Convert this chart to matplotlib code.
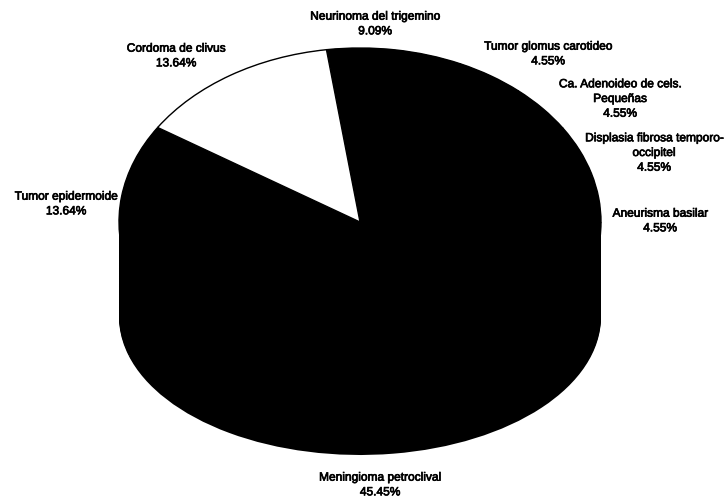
import matplotlib
matplotlib.use("Agg")
import matplotlib.pyplot as plt
from matplotlib.transforms import Affine2D
import matplotlib.patheffects as pe

# ---- data ----
categories = [
    "Neurinoma del trigemino",
    "Tumor glomus carotideo",
    "Ca. Adenoideo de cels.\nPequeñas",
    "Displasia fibrosa temporo-\noccipitel",
    "Aneurisma basilar",
    "Meningioma petroclival",
    "Tumor epidermoide",
    "Cordoma de clivus",
]
values = [9.09, 4.55, 4.55, 4.55, 4.55, 45.45, 13.64, 13.64]
slice_colors = ["black", "black", "black", "black", "black", "black", "black", "white"]

# ---- layout (pixel coordinates) ----
W, H = 727, 503
CX = 360
TOP_CY, TOP_RY = 222, 174
BOT_CY, BOT_RY = 317, 138
RX = 241
START = 98
label_pos = [(375, 24), (548, 54), (620, 99), (654, 153),
             (660, 221), (380, 485), (66, 204), (176, 56)]

fig = plt.figure(figsize=(W / 100, H / 100), dpi=100)
ax = fig.add_axes([0, 0, 1, 1])


def draw_layer(cy, ry, colors, lw):
    wedges, _ = ax.pie(values, colors=colors, startangle=START, counterclock=False,
                       wedgeprops=dict(edgecolor="black", linewidth=lw))
    tr = Affine2D().scale(RX, -ry).translate(CX, cy) + ax.transData
    for w in wedges:
        w.set_transform(tr)
    return wedges


# side (extrusion) layers, drawn from bottom face up to top face
n = 60
for k in range(n):
    t = k / (n - 1)
    cy = BOT_CY + (TOP_CY - BOT_CY) * t
    ry = BOT_RY + (TOP_RY - BOT_RY) * t
    draw_layer(cy, ry, ["black"] * len(values), 0.0)

# top face
draw_layer(TOP_CY, TOP_RY, slice_colors, 1.0)

for name, v, (x, y) in zip(categories, values, label_pos):
    ax.text(x, y, f"{name}\n{v:.2f}%", ha="center", va="center",
            fontsize=8.6, family="Liberation Sans", linespacing=1.3, color="black",
            path_effects=[pe.withStroke(linewidth=0.5, foreground="black")])

ax.set_aspect("auto")
ax.set_xlim(0, W)
ax.set_ylim(H, 0)
ax.axis("off")

fig.savefig("out.png", dpi=100, facecolor="white")
